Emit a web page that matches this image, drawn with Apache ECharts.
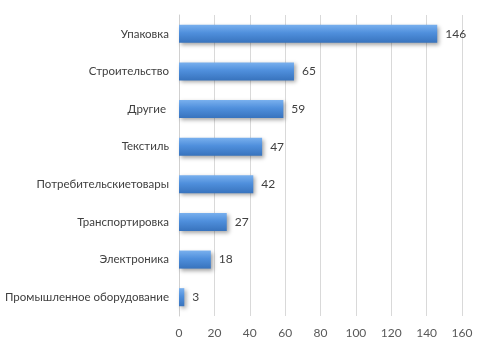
<!DOCTYPE html>
<html>
<head>
<meta charset="utf-8">
<script src="https://cdn.jsdelivr.net/npm/echarts@6/dist/echarts.min.js"></script>
<style>
  html, body { margin: 0; padding: 0; background: #ffffff; }
  #chart { width: 485px; height: 347px; }
</style>
</head>
<body>
<div id="chart"></div>
<script>
// Categories listed bottom-to-top (category axis on y starts at the bottom)
const categories = [
  'Промышленное оборудование',
  'Электроника',
  'Транспортировка',
  'Потребительскиетовары',
  'Текстиль',
  'Другие ',
  'Строительство',
  'Упаковка'
];
const values = [3, 18, 27, 42, 47, 59, 65, 146];
const xTicks = { min: 0, max: 160, interval: 20 };

const FONT = 'Lato, "Open Sans", sans-serif';

const chart = echarts.init(document.getElementById('chart'), null, { renderer: 'canvas' });

const barGradient = new echarts.graphic.LinearGradient(0, 0, 0, 1, [
  { offset: 0, color: '#79b0ee' },
  { offset: 0.45, color: '#4f8fdc' },
  { offset: 1, color: '#3873bd' }
]);

chart.setOption({
  animation: false,
  backgroundColor: '#ffffff',
  grid: {
    left: 179, right: 23, top: 15, bottom: 31,
    containLabel: false,
    outerBoundsMode: 'none'
  },
  xAxis: {
    type: 'value',
    min: xTicks.min,
    max: xTicks.max,
    interval: xTicks.interval,
    axisLine: { show: false },
    axisTick: { show: false },
    axisLabel: {
      color: '#595959',
      fontFamily: FONT,
      fontSize: 12,
      margin: 11
    },
    splitLine: { show: true, lineStyle: { color: '#d9d9d9', width: 1 } }
  },
  yAxis: {
    type: 'category',
    data: categories,
    axisLine: { show: true, lineStyle: { color: '#d0d0d0' } },
    axisTick: { show: false },
    axisLabel: {
      color: '#404040',
      fontFamily: FONT,
      fontSize: 11.5,
      margin: 10
    }
  },
  series: [{
    type: 'bar',
    data: values,
    barWidth: '48%',
    itemStyle: {
      color: barGradient,
      shadowColor: 'rgba(0,0,0,0.35)',
      shadowBlur: 4,
      shadowOffsetX: 2,
      shadowOffsetY: 2
    },
    label: {
      show: true,
      position: 'right',
      distance: 8,
      color: '#404040',
      fontFamily: FONT,
      fontSize: 12
    }
  }]
});
</script>
</body>
</html>
